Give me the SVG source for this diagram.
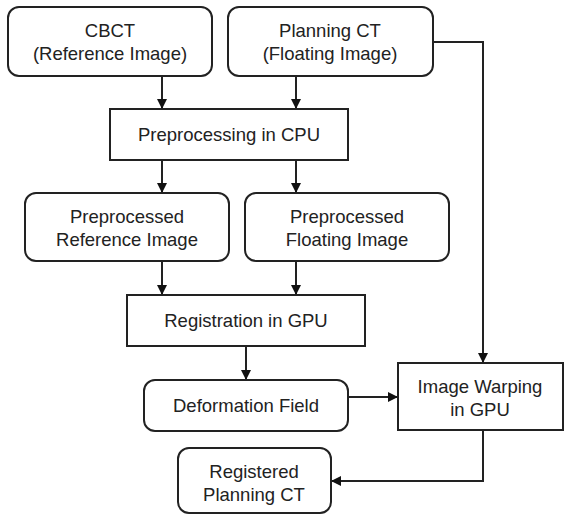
<svg xmlns="http://www.w3.org/2000/svg" width="564" height="514" viewBox="0 0 564 514">
<style>
.box{fill:#fff;stroke:#222;stroke-width:2}
.t{font-family:"Liberation Sans",Arial,sans-serif;font-size:18.5px;fill:#222;text-anchor:middle}
.c{fill:none;stroke:#222;stroke-width:2}
</style>
<defs>
<marker id="ah" viewBox="0 0 10 10" refX="10" refY="5" markerWidth="10" markerHeight="10" markerUnits="userSpaceOnUse" orient="auto">
<path d="M0,0 L10,5 L0,10 z" fill="#111"/>
</marker>
</defs>
<rect width="564" height="514" fill="#fff"/>
<g id="connectors">
<path class="c" d="M162,76 V109" marker-end="url(#ah)"/>
<path class="c" d="M296,76 V109" marker-end="url(#ah)"/>
<path class="c" d="M433,42 H483 V363" marker-end="url(#ah)"/>
<path class="c" d="M162,160 V193" marker-end="url(#ah)"/>
<path class="c" d="M296,160 V193" marker-end="url(#ah)"/>
<path class="c" d="M162,261 V295" marker-end="url(#ah)"/>
<path class="c" d="M296,261 V295" marker-end="url(#ah)"/>
<path class="c" d="M246,346 V380" marker-end="url(#ah)"/>
<path class="c" d="M348,397 H398" marker-end="url(#ah)"/>
<path class="c" d="M483,430 V481 H331" marker-end="url(#ah)"/>
</g>
<g id="cbct">
<rect class="box" x="8" y="7" width="204" height="69" rx="11"/>
<text class="t" x="110" y="37">CBCT</text>
<text class="t" x="110" y="60">(Reference Image)</text>
</g>
<g id="planning">
<rect class="box" x="228" y="7" width="205" height="69" rx="11"/>
<text class="t" x="330" y="37">Planning CT</text>
<text class="t" x="330" y="60">(Floating Image)</text>
</g>
<g id="preproc">
<rect class="box" x="110" y="109" width="238" height="51"/>
<text class="t" x="229" y="141">Preprocessing in CPU</text>
</g>
<g id="pref">
<rect class="box" x="25" y="193" width="204" height="68" rx="11"/>
<text class="t" x="127" y="223">Preprocessed</text>
<text class="t" x="127" y="246">Reference Image</text>
</g>
<g id="pfloat">
<rect class="box" x="245" y="193" width="204" height="68" rx="11"/>
<text class="t" x="347" y="223">Preprocessed</text>
<text class="t" x="347" y="246">Floating Image</text>
</g>
<g id="registration">
<rect class="box" x="127" y="295" width="238" height="51"/>
<text class="t" x="246" y="327">Registration in GPU</text>
</g>
<g id="deformation">
<rect class="box" x="144" y="380" width="204" height="51" rx="11"/>
<text class="t" x="246" y="412">Deformation Field</text>
</g>
<g id="warping">
<rect class="box" x="398" y="363" width="165" height="67"/>
<text class="t" x="480" y="393">Image Warping</text>
<text class="t" x="480" y="416">in GPU</text>
</g>
<g id="registered">
<rect class="box" x="178" y="448" width="153" height="65" rx="11"/>
<text class="t" x="254" y="478">Registered</text>
<text class="t" x="254" y="501">Planning CT</text>
</g>
</svg>
